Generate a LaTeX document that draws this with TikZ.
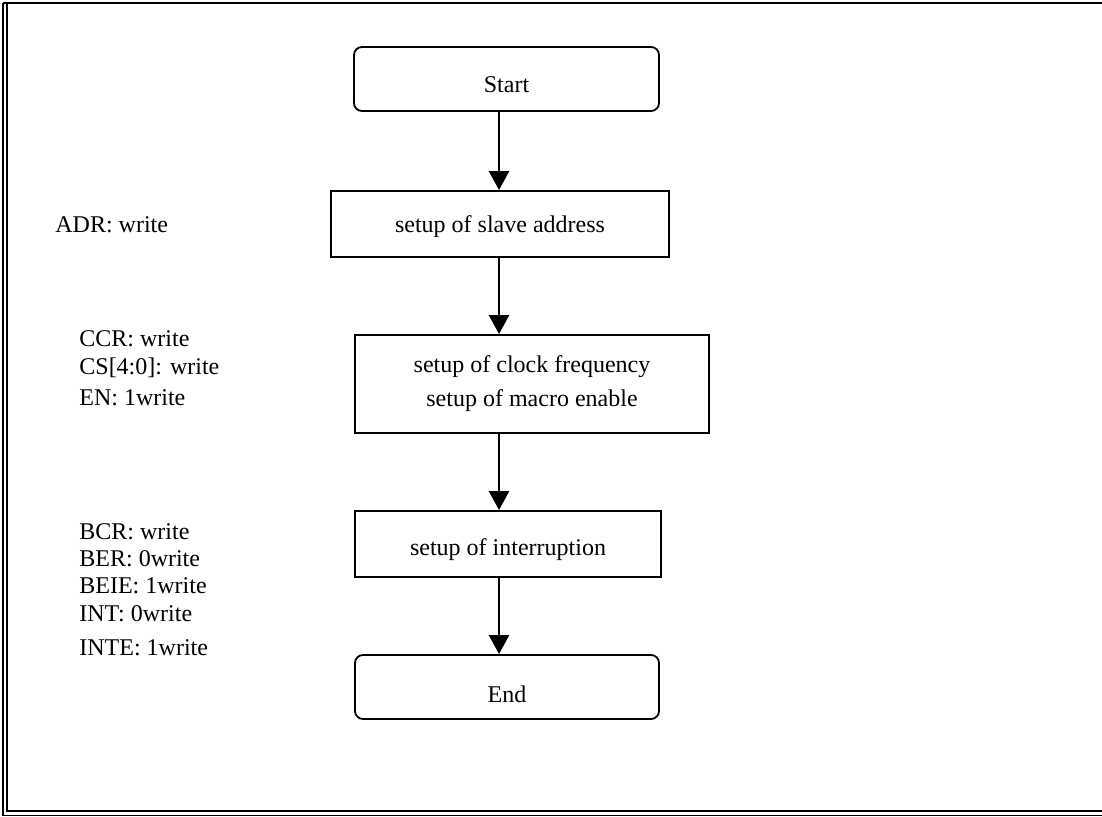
\documentclass[tikz,border=0pt]{standalone}
\usepackage{fontspec}
\setmainfont{Liberation Serif}
\usetikzlibrary{arrows.meta}
\begin{document}
\begin{tikzpicture}[x=0.5pt,y=-0.5pt,
  every node/.style={font=\fontsize{12}{17}\selectfont, inner sep=0pt},
  boxnode/.style={draw, line width=0.9pt},
  termnode/.style={draw, line width=0.9pt, rounded corners=4pt},
  label/.style={anchor=base west},
  arr/.style={line width=1pt, -{Triangle[length=9.5pt,width=10pt]}},
  frameinner/.style={line width=1pt},
  frameouter/.style={line width=0.6pt}]
\useasboundingbox (0,0) rectangle (1102,817);
\begin{scope}
  \clip (0,0) rectangle (1102,817);
  \fill[white] (0,0) rectangle (1102,817);
  \draw[frameinner] (3,3.3) -- (1110,3.3);
  \draw[frameinner] (6.5,3.3) -- (6.5,811) -- (1110,811);
  \draw[frameouter] (3,3.3) -- (3,815.5) -- (1110,815.5);
\end{scope}

\node[termnode, minimum width=152.5pt, minimum height=32pt, text height=14pt, text depth=0pt] (start) at (506.5,79) {Start};
\node[boxnode, minimum width=169pt, minimum height=33pt, text height=9pt, text depth=0pt] (slave) at (500,224) {setup of slave address};
\node[boxnode, minimum width=177pt, minimum height=49pt, align=center] (clock) at (532,384) {setup of clock frequency\\setup of macro enable};
\node[boxnode, minimum width=153pt, minimum height=33pt, text height=11pt, text depth=0pt] (intr) at (508,544) {setup of interruption};
\node[termnode, minimum width=152pt, minimum height=32pt, text height=15pt, text depth=0pt] (end) at (507,687) {End};

\coordinate (ax) at (499,0);
\draw[arr] (start.south -| ax) -- (slave.north -| ax);
\draw[arr] (slave.south -| ax) -- (clock.north -| ax);
\draw[arr] (clock.south -| ax) -- (intr.north -| ax);
\draw[arr] (intr.south -| ax) -- (end.north -| ax);

\node[label] (adr) at (55,233) {ADR: write};
\node[label] (ccr) at (79,347) {CCR: write};
\node[label] (cs) at (79,375) {CS[4:0]: write};
\node[label] (en) at (79,406) {EN: 1write};
\node[label] (bcr) at (79,539) {BCR: write};
\node[label] (ber) at (79,567) {BER: 0write};
\node[label] (beie) at (79,593) {BEIE: 1write};
\node[label] (int) at (79,621) {INT: 0write};
\node[label] (inte) at (79,655) {INTE: 1write};
\end{tikzpicture}
\end{document}
